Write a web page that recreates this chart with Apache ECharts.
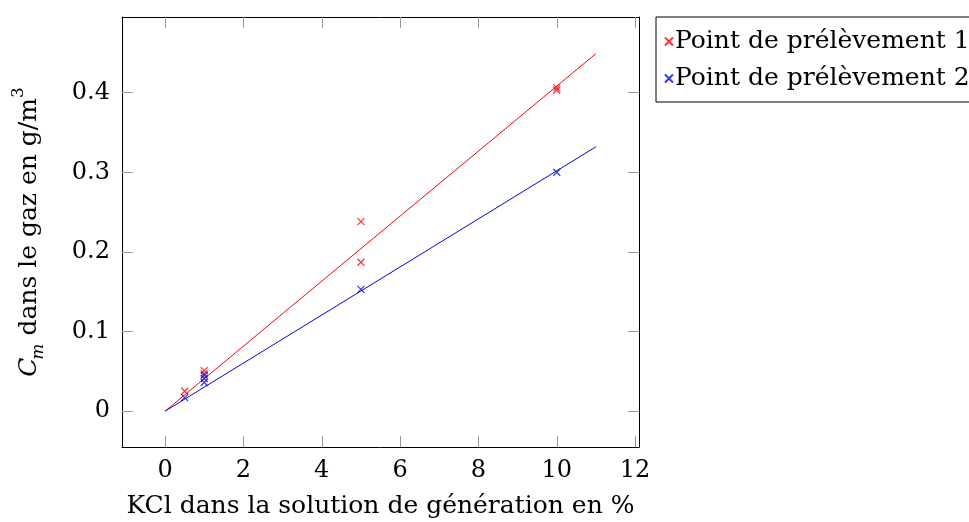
<!DOCTYPE html>
<html><head><meta charset="utf-8">
<script src="https://cdn.jsdelivr.net/npm/echarts@6/dist/echarts.min.js"></script>
<style>html,body{margin:0;padding:0;background:#fff}#c{width:969px;height:522px}</style>
</head><body><div id="c"></div>
<script>
const xTicks = [0, 2, 4, 6, 8, 10, 12];
const yTicks = [0, 0.1, 0.2, 0.3, 0.4];
const point1 = [[0.5, 0.025], [1, 0.051], [1, 0.047], [5, 0.238], [5, 0.187], [10, 0.406], [10, 0.403]];
const point2 = [[0.5, 0.017], [1, 0.045], [1, 0.041], [1, 0.036], [5, 0.153], [10, 0.300]];
const fit1 = [[0, 0], [11, 0.449]];
const fit2 = [[0, 0], [11, 0.332]];
const names = ['Point de prélèvement 1', 'Point de prélèvement 2'];

const FONT = 'DejaVu Serif';
const FS = 24;
const NFS = 25;
const cross = 'path://M0,0L10,10M10,0L0,10';
const chart = echarts.init(document.getElementById('c'));
const tickStyle = {show: true, inside: true, length: 11, lineStyle: {color: '#999', width: 1}};
const baseX = {type: 'value', min: -1.1, max: 12.1, interval: 2, splitLine: {show: false},
  axisLine: {show: true, onZero: false, lineStyle: {color: '#000', width: 1}}, axisTick: tickStyle};
const baseY = {type: 'value', min: -0.045, max: 0.495, splitLine: {show: false},
  axisLine: {show: true, onZero: false, lineStyle: {color: '#000', width: 1}}, axisTick: tickStyle};
chart.setOption({
  animation: false,
  grid: {left: 122, top: 17, right: 330, bottom: 75, outerBoundsMode: 'none', containLabel: false},
  legend: {
    data: names, orient: 'vertical', left: 656, top: 17, itemGap: 12,
    padding: [12, 20, 11, 8], borderColor: '#000', borderWidth: 1,
    itemWidth: 8, itemHeight: 8,
    textStyle: {fontFamily: FONT, fontSize: NFS, color: '#000', padding: [0, 0, 0, -3]}
  },
  xAxis: [
    Object.assign({}, baseX, {position: 'bottom',
      axisLabel: {show: true, margin: 12, fontFamily: FONT, fontSize: FS, color: '#000',
        customValues: xTicks},
      axisTick: Object.assign({}, tickStyle, {customValues: xTicks}),
      name: 'KCl dans la solution de génération en %', nameLocation: 'middle', nameGap: 47,
      nameTextStyle: {fontFamily: FONT, fontSize: NFS, color: '#000'}}),
    Object.assign({}, baseX, {position: 'top', axisLabel: {show: false},
      axisTick: Object.assign({}, tickStyle, {customValues: xTicks})})
  ],
  yAxis: [
    Object.assign({}, baseY, {position: 'left',
      axisLabel: {show: true, margin: 12, fontFamily: FONT, fontSize: FS, color: '#000',
        customValues: yTicks, formatter: v => v === 0 ? '0' : v.toFixed(1)},
      axisTick: Object.assign({}, tickStyle, {customValues: yTicks}),
      name: '{i|C}{sub|m} dans le gaz en g/m{sup|3}', nameLocation: 'middle', nameGap: 80,
      nameTextStyle: {fontFamily: FONT, fontSize: NFS, color: '#000',
        rich: {
          i: {fontFamily: FONT, fontStyle: 'italic', fontSize: NFS, color: '#000'},
          sub: {fontFamily: FONT, fontStyle: 'italic', fontSize: 17, color: '#000', verticalAlign: 'bottom', padding: [0, 0, -5, -2]},
          sup: {fontFamily: FONT, fontSize: 17, color: '#000', verticalAlign: 'top', padding: [-7, 0, 0, 0]}
        }}}),
    Object.assign({}, baseY, {position: 'right', axisLabel: {show: false},
      axisTick: Object.assign({}, tickStyle, {customValues: yTicks})})
  ],
  series: [
    {type: 'line', data: fit1, symbol: 'none', lineStyle: {color: '#ff0000', width: 1}, silent: true, z: 1},
    {type: 'line', data: fit2, symbol: 'none', lineStyle: {color: '#0000ff', width: 1}, silent: true, z: 1},
    {name: names[0], type: 'scatter', data: point1, symbol: cross, symbolSize: 7,
      itemStyle: {color: 'rgba(0,0,0,0)', borderColor: '#ff0000', borderWidth: 1.2}, z: 3},
    {name: names[1], type: 'scatter', data: point2, symbol: cross, symbolSize: 7,
      itemStyle: {color: 'rgba(0,0,0,0)', borderColor: '#0000ff', borderWidth: 1.2}, z: 3}
  ]
});
</script></body></html>
